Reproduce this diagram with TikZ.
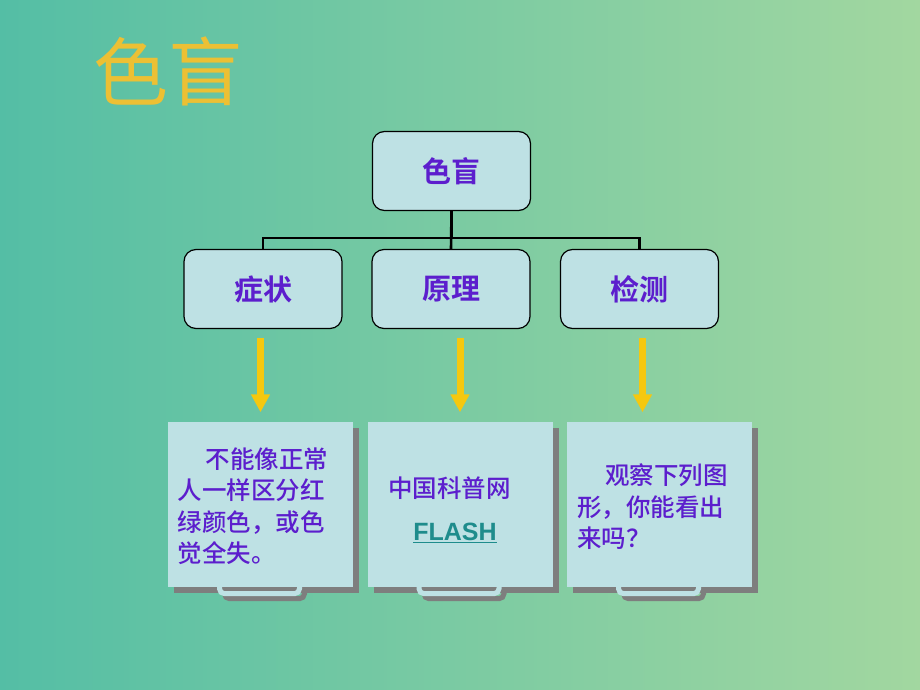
\documentclass[tikz,border=0pt]{standalone}
\usepackage{fontspec}
\usepackage{tikz}
\usetikzlibrary{arrows.meta}
\usetikzlibrary{shadows}
\newfontfamily\cjk{Noto Sans CJK SC Medium}
\newfontfamily\cjkbold{Noto Sans CJK SC Bold}
\newfontfamily\titlefont{Noto Sans CJK SC}
\setsansfont{Liberation Sans}
\definecolor{bgleft}{RGB}{84,190,165}
\definecolor{bgright}{RGB}{162,215,160}
\definecolor{boxfill}{RGB}{190,225,228}
\definecolor{txtpurple}{RGB}{92,30,205}
\definecolor{titlegold}{RGB}{236,192,52}
\definecolor{arrowyellow}{RGB}{245,200,15}
\definecolor{shadowgray}{RGB}{126,126,126}
\definecolor{linkteal}{RGB}{30,140,140}
\tikzstyle{branch} = [rectangle, rounded corners=12pt, draw=black, line width=1.2pt, fill=boxfill, minimum width=158pt, minimum height=79pt, text=txtpurple, font=\cjkbold\fontsize{29}{29}\selectfont]
\tikzstyle{tree} = [-, line width=2.6pt, draw=black]
\tikzstyle{note} = [rectangle, fill=boxfill, minimum width=185pt, minimum height=165pt, drop shadow={shadow xshift=6pt, shadow yshift=-6pt, fill=shadowgray, opacity=1}]
\tikzstyle{flow} = [-{Triangle[length=18pt, width=18pt]}, line width=7pt, draw=arrowyellow, shorten <=9pt, shorten >=9pt]
\tikzstyle{body} = [draw=none, inner sep=0, text=txtpurple, font=\cjk\fontsize{24.5}{31.5}\selectfont]
\newcommand{\boxtab}[1]{%
  \draw [line width=5pt, draw=shadowgray, rounded corners=5pt] ([xshift=-36pt, yshift=-5pt]#1.south) -- ++(0,7) -| ([xshift=44pt, yshift=-5pt]#1.south);
  \draw [line width=5pt, draw=boxfill, rounded corners=5pt] ([xshift=-41pt]#1.south) -- ++(0,7) -| ([xshift=39pt]#1.south);
}

\begin{document}
\begin{tikzpicture}[x=1pt, y=-1pt]
\shade [left color=bgleft, right color=bgright] (0,0) rectangle (920,690);
\useasboundingbox (0,0) rectangle (920,690);

\node [draw=none, text=titlegold, font=\titlefont\fontsize{75}{75}\selectfont] (title) at (168,71) {色盲};

% tree
\node [branch] (top) at (451.5,171) {色盲};
\node [branch] (sym) at (263,289) {症状};
\node [branch] (prin) at (451,289) {原理};
\node [branch] (det) at (639.5,289) {检测};
\draw [tree] (top.south) -- ++(0,27) -| (sym.north);
\draw [tree] (top.south) -- ++(0,27) -| (det.north);
\draw [tree] (top.south) -- (prin.north);

% notes
\node [note] (d1) at (260.5,504) {};
\node [note] (d2) at (460,504) {};
\node [note] (d3) at (659.5,504) {};
\boxtab{d1}
\boxtab{d2}
\boxtab{d3}

\draw [flow] (d1.north |- sym.south) -- (d1.north);
\draw [flow] (d2.north |- prin.south) -- (d2.north);
\draw [flow] ([xshift=3pt]det.south) -- ([xshift=3pt]det.south |- d3.north);

\node [body, align=left] (t1) at (253,506) {\hspace*{28pt}不能像正常\\人一样区分红\\绿颜色，或色\\觉全失。};
\node [body] (t2) at (449.5,488) {中国科普网};
\node [draw=none, inner sep=0, text=linkteal, font=\sffamily\bfseries\fontsize{25}{25}\selectfont] (flash) at (455,533) {\underline{FLASH}};
\node [body, align=left] (t3) at (652.5,507) {\hspace*{28pt}观察下列图\\形，你能看出\\来吗？};
\end{tikzpicture}
\end{document}
